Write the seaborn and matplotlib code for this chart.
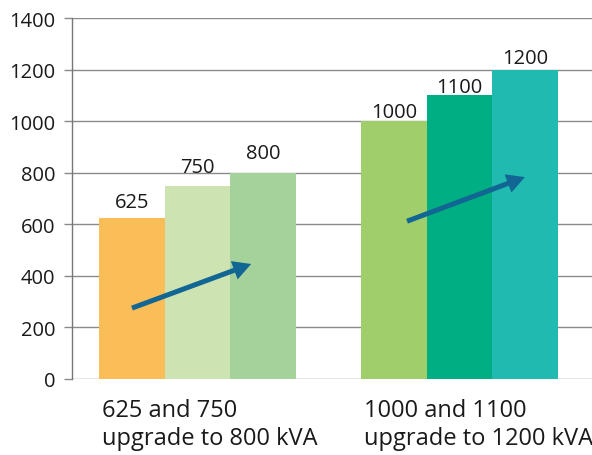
import matplotlib
matplotlib.use("Agg")
import matplotlib.pyplot as plt
import matplotlib.transforms as mtransforms
import pandas as pd
import seaborn as sns

# Transformer ratings (kVA) per upgrade path
groups = ["625 and 750\nupgrade to 800 kVA", "1000 and 1100\nupgrade to 1200 kVA"]
slots = ["a", "b", "c"]
values_small = [625, 750, 800]
values_large = [1000, 1100, 1200]
colors_small = ["#FBBD57", "#CDE3B1", "#A5D29A"]
colors_large = ["#A0CE6A", "#00AE83", "#20BAB0"]
y_ticks = [0, 200, 400, 600, 800, 1000, 1200, 1400]

# Upgrade arrows: (start, tip) in data coordinates
arrow_small = ((-0.25, 275), (0.205, 446))
arrow_large = ((0.80, 612), (1.25, 783))

# Gap (pixels) between each bar top and the baseline of its value label
label_gap_small = [11, 14, 15]
label_gap_large = [4, 3, 7]

df = pd.DataFrame({
    "group": [groups[0]] * 3 + [groups[1]] * 3,
    "slot": slots * 2,
    "kva": values_small + values_large,
})

sns.set_theme(style="white")
plt.rcParams["font.family"] = ["Open Sans", "DejaVu Sans"]
text_color = "#1a1a1a"
grid_color = "#8a8a8a"

fig = plt.figure(figsize=(5.92, 4.56), dpi=100)
ax = fig.add_axes([72 / 592, 76 / 456, 1 - 72 / 592, 361 / 456])

sns.barplot(data=df, x="group", y="kva", hue="slot", order=groups,
            hue_order=slots, width=0.75, gap=0, legend=False,
            ax=ax, zorder=3, linewidth=0)

# Each hue container holds one bar per group; colour and label them individually
for i, cont in enumerate(ax.containers):
    pairs = ((cont[0], colors_small[i], values_small[i], label_gap_small[i]),
             (cont[1], colors_large[i], values_large[i], label_gap_large[i]))
    for bar, color, val, gap in pairs:
        bar.set_facecolor(color)
        bar.set_edgecolor("none")
        cx = bar.get_x() + bar.get_width() / 2
        ax.annotate(f"{val}", xy=(cx, bar.get_height()),
                    xytext=(0, gap * 0.72), textcoords="offset points",
                    ha="center", va="baseline", fontsize=14.5,
                    color=text_color, zorder=4)

ax.set_ylim(0, 1400)
ax.set_yticks(y_ticks)
ax.set_xlim(-0.479, 1.506)
ax.yaxis.grid(True, color=grid_color, linewidth=1)
ax.set_axisbelow(True)
ax.set_xlabel("")
ax.set_ylabel("")

for side in ["top", "right", "bottom"]:
    ax.spines[side].set_visible(False)
ax.spines["left"].set_color("#777777")
ax.spines["left"].set_linewidth(1)

ax.tick_params(axis="y", length=6, width=1, color=grid_color, pad=6,
               labelsize=14.5, labelcolor=text_color, left=True)
ax.tick_params(axis="x", length=0, pad=14, labelsize=17, labelcolor=text_color)

# Category labels are left-aligned, starting near the left edge of each group
offset = mtransforms.ScaledTranslation(-95.5 / 100, 0, fig.dpi_scale_trans)
for lab in ax.get_xticklabels():
    lab.set_horizontalalignment("left")
    lab.set_multialignment("left")
    lab.set_linespacing(1.2)
    lab.set_transform(lab.get_transform() + offset)

for (start, tip) in (arrow_small, arrow_large):
    ax.annotate("", xy=tip, xytext=start, zorder=5,
                arrowprops=dict(arrowstyle="simple,head_length=0.65,head_width=0.7,tail_width=0.18",
                                color="#116694", lw=0, shrinkA=0, shrinkB=0,
                                mutation_scale=20))

fig.savefig("out.png", dpi=100)
